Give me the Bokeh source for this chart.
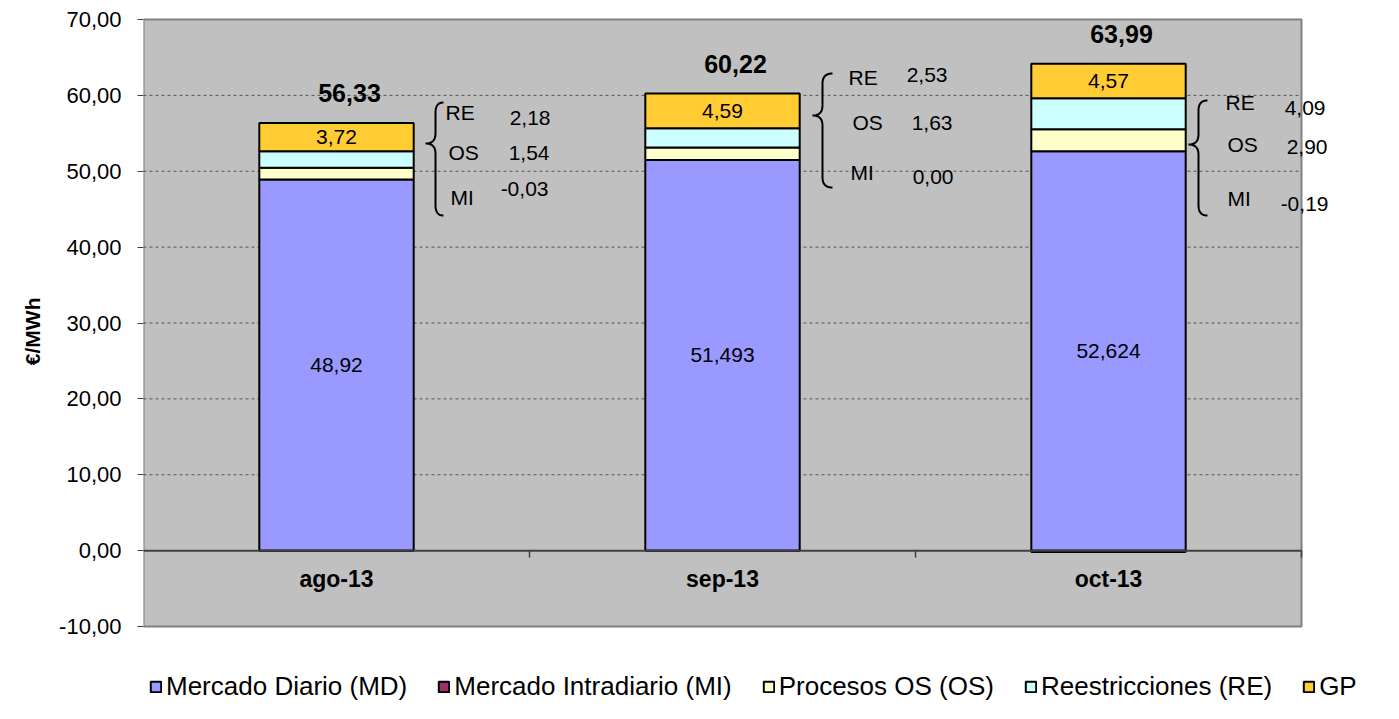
import numpy as np
from bokeh.plotting import figure
from bokeh.models import (ColumnDataSource, Range1d, FixedTicker, CustomJSTickFormatter,
                          LabelSet, Legend, LegendItem, Title)
from bokeh.core.properties import value
from bokeh.embed import file_html
from bokeh.resources import INLINE

# ---------------- data ----------------
months = ["ago-13", "sep-13", "oct-13"]
md = [48.92, 51.493, 52.624]
mi = [-0.03, 0.00, -0.19]
os_vals = [1.54, 1.63, 2.90]
re_vals = [2.18, 2.53, 4.09]
gp = [3.72, 4.59, 4.57]
totals = [56.33, 60.22, 63.99]
y_ticks = [-10, 0, 10, 20, 30, 40, 50, 60, 70]
series_names = ["Mercado Diario (MD)", "Mercado Intradiario (MI)", "Procesos OS (OS)",
                "Reestricciones (RE)", "GP"]
series_colors = ["#9999FF", "#993366", "#FFFFCC", "#CCFFFF", "#FFCC33"]
ann_names = ["RE", "OS", "MI"]

# ---------------- layout ----------------
FONT = "Liberation Sans"
W, H = 1383, 703
ML = 143                       # space for the y axis
XMIN, XMAX, YMIN, YMAX = 0.0, 3.0, -10.0, 70.0   # visible plot box
BOX_L, BOX_T, BOX_W, BOX_H = 143, 19, 1158, 607  # plot box in picture px
PPU_X = BOX_W / (XMAX - XMIN)
PPU_Y = BOX_H / (YMAX - YMIN)
FR_L, FR_T = ML, 0             # frame covers everything right of the axis
FR_W, FR_H = W - ML, H


def px2x(px):
    return XMIN + (px - BOX_L) / PPU_X


def px2y(py):
    return YMAX - (py - BOX_T) / PPU_Y


x_lo, x_hi = px2x(FR_L), px2x(FR_L + FR_W)
y_hi, y_lo = px2y(FR_T), px2y(FR_T + FR_H)

ann_layout = {
    "ago-13": dict(name_x=[445, 448, 450], name_y=[112, 152, 197],
                   val_x=[550, 549, 548], val_y=[117, 152, 188],
                   brace=(425, 435, 443, 102, 143, 215)),
    "sep-13": dict(name_x=[848, 852, 850], name_y=[77, 122, 172],
                   val_x=[947, 952, 953], val_y=[74, 122, 176],
                   brace=(812, 822, 832, 73, 115, 187)),
    "oct-13": dict(name_x=[1225, 1227, 1227], name_y=[102, 144, 198],
                   val_x=[1325, 1327, 1328], val_y=[107, 146, 203],
                   brace=(1188, 1198, 1207, 100, 144, 215)),
}

# ---------------- figure ----------------
p = figure(width=W, height=H, x_range=Range1d(x_lo, x_hi), y_range=Range1d(y_lo, y_hi),
           output_backend="svg", toolbar_location=None, x_axis_location=None, title=None,
           min_border_left=ML, min_border_right=0, min_border_top=0, min_border_bottom=0,
           background_fill_color="white", border_fill_color="white",
           outline_line_color=None)

# plot box
p.quad(left=[XMIN], right=[XMAX], bottom=[YMIN], top=[YMAX], fill_color="#C0C0C0",
       line_color="#808080", line_width=2)
grid_y = [t for t in y_ticks if YMIN < t < YMAX and t != 0]
p.segment(x0=[XMIN] * len(grid_y), y0=grid_y, x1=[XMAX] * len(grid_y), y1=grid_y,
          line_color="#555555", line_dash="3 3", line_width=1)

x = np.arange(len(months)) + 0.5
md_a, mi_a, os_a, re_a, gp_a = (np.array(v, dtype=float) for v in (md, mi, os_vals, re_vals, gp))
b_os = md_a
b_re = b_os + os_a
b_gp = b_re + re_a
t_gp = b_gp + gp_a

bars = [
    (np.zeros(3), md_a),
    (np.minimum(mi_a, 0), np.maximum(mi_a, 0)),
    (b_os, b_re),
    (b_re, b_gp),
    (b_gp, t_gp),
]
BW = 0.4
renderers = []
for (bot, top), col in zip(bars, series_colors):
    r = p.vbar(x=x, bottom=bot, top=top, width=BW, fill_color=col,
               line_color="black", line_width=2)
    renderers.append(r)

# zero axis line with category-boundary ticks
p.segment(x0=[XMIN], y0=[0], x1=[XMAX], y1=[0], line_color="#404040", line_width=2)
bx = np.arange(1, len(months) + 1)
p.segment(x0=bx, y0=np.zeros(len(bx)), x1=bx, y1=np.full(len(bx), -7 / PPU_Y),
          line_color="#404040", line_width=1.5)

# y axis
p.yaxis.ticker = FixedTicker(ticks=y_ticks)
p.yaxis.formatter = CustomJSTickFormatter(code="return tick.toFixed(2).replace('.', ',');")
p.yaxis.major_label_text_font = FONT
p.yaxis.major_label_text_font_size = "22px"
p.yaxis.major_label_text_color = "black"
p.yaxis.major_tick_out = 6
p.yaxis.major_tick_in = 0
p.yaxis.minor_tick_out = 0
p.yaxis.minor_tick_in = 0
p.yaxis.major_tick_line_color = "#404040"
p.yaxis.axis_line_color = None
p.yaxis.major_label_standoff = 16
p.xgrid.visible = False
p.ygrid.visible = False

p.add_layout(Title(text="€/MWh", align="right", offset=297, vertical_align="bottom",
                   standoff=26, text_font=FONT, text_font_size="21px",
                   text_font_style="bold", text_color="black"), "left")


def fmt(v):
    return f"{v:.2f}".replace(".", ",")


def labels(src, size, align="center", bold=False):
    return LabelSet(x="x", y="y", text="text", source=src, text_align=align,
                    text_baseline="middle", text_font=value(FONT), text_font_size=size,
                    text_font_style="bold" if bold else "normal", text_color="black")


# labels inside / above bars
p.add_layout(labels(ColumnDataSource(dict(x=x, y=md_a / 2,
                                          text=[str(v).replace(".", ",") for v in md])), "21px"))
p.add_layout(labels(ColumnDataSource(dict(x=x, y=(b_gp + t_gp) / 2,
                                          text=[fmt(v) for v in gp])), "21px"))
p.add_layout(labels(ColumnDataSource(dict(x=x + 13 / PPU_X, y=t_gp + 3.9,
                                          text=[fmt(v) for v in totals])), "25px", bold=True))
p.add_layout(labels(ColumnDataSource(dict(x=x, y=np.full(3, px2y(578)), text=months)),
                    "23px", bold=True))


# braces and side annotations
def qbez(p0, c, p1, n=14):
    t = np.linspace(0, 1, n)
    return (1 - t) ** 2 * p0 + 2 * (1 - t) * t * c + t ** 2 * p1


bxs, bys = [], []
nx, ny, nt, vx, vy, vt = [], [], [], [], [], []
for i, m in enumerate(months):
    L = ann_layout[m]
    xt, xv, xe, yt, ym, yb = L["brace"]
    r = 10
    pts_x = np.concatenate([
        qbez(xe, xv, xv), [xv],
        qbez(xv, xv, xt),
        qbez(xt, xv, xv), [xv],
        qbez(xv, xv, xe)])
    pts_y = np.concatenate([
        qbez(yt, yt, yt + r), [ym - r],
        qbez(ym - r, ym, ym),
        qbez(ym, ym, ym + r), [yb - r],
        qbez(yb - r, yb, yb)])
    bxs.append([px2x(v) for v in pts_x])
    bys.append([px2y(v) for v in pts_y])
    vals = [re_vals[i], os_vals[i], mi[i]]
    for k in range(3):
        nx.append(px2x(L["name_x"][k]))
        ny.append(px2y(L["name_y"][k]))
        nt.append(ann_names[k])
        vx.append(px2x(L["val_x"][k]))
        vy.append(px2y(L["val_y"][k]))
        vt.append(fmt(vals[k]))

p.multi_line(xs=bxs, ys=bys, line_color="black", line_width=2)
p.add_layout(labels(ColumnDataSource(dict(x=nx, y=ny, text=nt)), "21px", align="left"))
p.add_layout(labels(ColumnDataSource(dict(x=vx, y=vy, text=vt)), "21px", align="right"))

# legend
legend = Legend(items=[LegendItem(label=n, renderers=[r]) for n, r in zip(series_names, renderers)],
                orientation="horizontal", location=(6, 1), glyph_width=13, glyph_height=13,
                label_standoff=4, spacing=30, padding=0, margin=0,
                background_fill_alpha=0, border_line_alpha=0,
                label_text_font=FONT, label_text_font_size="26px", label_text_color="black")
p.add_layout(legend)

open("out.html", "w").write(file_html(p, INLINE))
